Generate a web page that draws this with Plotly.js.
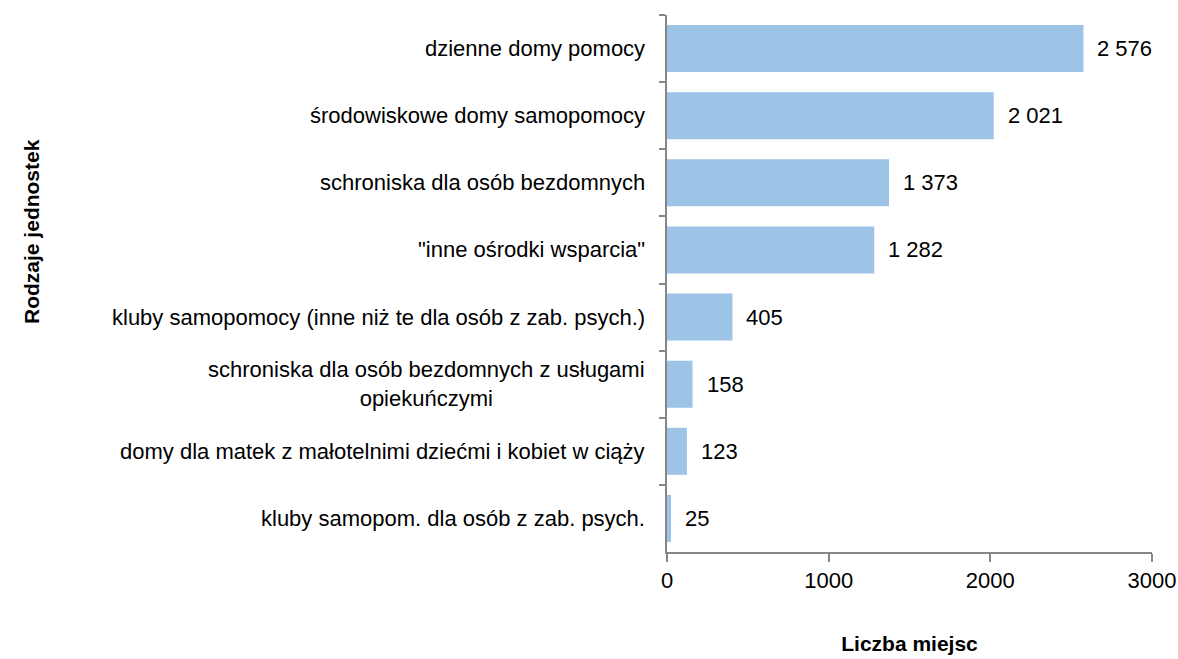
<!DOCTYPE html>
<html>
<head>
<meta charset="utf-8">
<script src="https://cdn.plot.ly/plotly-3.0.1.min.js"></script>
<style>
    html, body { margin: 0; padding: 0; background: #ffffff; }
    #chart { width: 1178px; height: 659px; }
</style>
</head>
<body>
<div id="chart"></div>
<script>
// Chart data
const categories = [
    'dzienne domy pomocy',
    'środowiskowe domy samopomocy',
    'schroniska dla osób bezdomnych',
    '"inne ośrodki wsparcia"',
    'kluby samopomocy (inne niż te dla osób z zab. psych.)',
    'schroniska dla osób bezdomnych z usługami<br>opiekuńczymi',
    'domy dla matek z małotelnimi dziećmi i kobiet w ciąży',
    'kluby samopom. dla osób z zab. psych.'
];
const places = [2576, 2021, 1373, 1282, 405, 158, 123, 25];
const xTicks = [0, 1000, 2000, 3000];

const FONT = 'Liberation Sans, Arial, sans-serif';
const AXIS = '#868686';
const SIZE = 22;

// thousands separated by a space, like "2 576"
function fmt(v) {
    return String(v).replace(/\B(?=(\d{3})+(?!\d))/g, ' ');
}

// Build chart
function renderChart() {
    const trace = {
        type: 'bar',
        orientation: 'h',
        x: places,
        y: categories,
        marker: { color: '#9dc3e6' },
        hoverinfo: 'x+y',
        cliponaxis: false
    };

    // value labels right of each bar
    const valueLabels = places.map((v, i) => ({
        x: v,
        y: categories[i],
        xref: 'x',
        yref: 'y',
        text: fmt(v),
        showarrow: false,
        xanchor: 'left',
        xshift: 12,
        font: { family: FONT, size: SIZE, color: '#000000' }
    }));

    // category labels, lines centred like the original
    const catLabels = categories.map(c => ({
        x: 0,
        y: c,
        xref: 'paper',
        yref: 'y',
        text: c,
        showarrow: false,
        xanchor: 'right',
        align: 'center',
        xshift: -20,
        font: { family: FONT, size: SIZE, color: '#000000' }
    }));

    const layout = {
        width: 1178,
        height: 659,
        paper_bgcolor: '#ffffff',
        plot_bgcolor: '#ffffff',
        margin: { t: 15, r: 26, b: 107, l: 667 },
        bargap: 0.3,
        showlegend: false,
        font: { family: FONT, size: SIZE, color: '#000000' },
        xaxis: {
            range: [0, 3000],
            tickvals: xTicks,
            ticktext: xTicks.map(String),
            showgrid: false,
            zeroline: false,
            showline: true,
            linecolor: AXIS,
            linewidth: 1.5,
            ticks: 'outside',
            ticklen: 8,
            tickcolor: AXIS,
            tickwidth: 1.5,
            tickfont: { family: FONT, size: SIZE, color: '#000000' },
            title: {
                text: '<b>Liczba miejsc</b>',
                standoff: 44,
                font: { family: FONT, size: 21, color: '#000000' }
            }
        },
        yaxis: {
            type: 'category',
            autorange: 'reversed',
            showgrid: false,
            zeroline: false,
            showline: true,
            linecolor: AXIS,
            linewidth: 1.5,
            ticks: 'outside',
            tickson: 'boundaries',
            ticklen: 6,
            tickcolor: AXIS,
            tickwidth: 1.5,
            showticklabels: false
        },
        annotations: valueLabels.concat(catLabels).concat([{
            x: -1.338,
            y: 0.597,
            xref: 'paper',
            yref: 'paper',
            text: '<b>Rodzaje jednostek</b>',
            textangle: -90,
            showarrow: false,
            font: { family: FONT, size: 21, color: '#000000' }
        }])
    };

    Plotly.newPlot('chart', [trace], layout, { displayModeBar: false, responsive: false });
}

document.addEventListener('DOMContentLoaded', renderChart);
</script>
</body>
</html>
